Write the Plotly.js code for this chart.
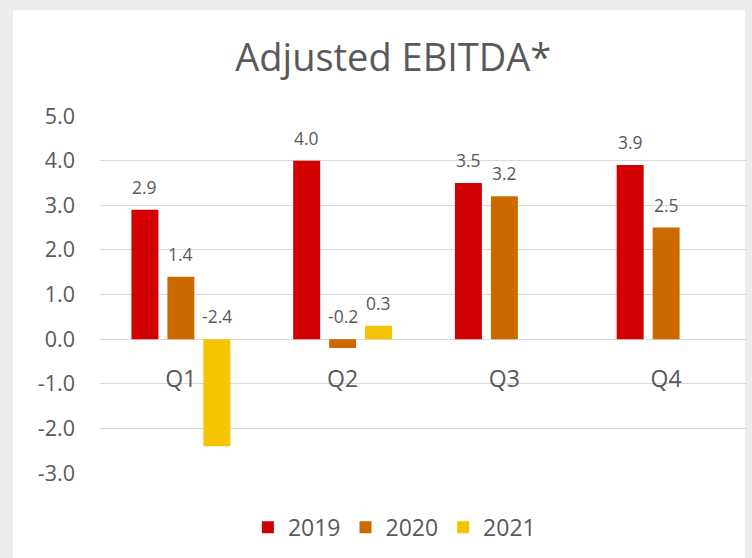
<!DOCTYPE html>
<html><head><meta charset="utf-8">
<script src="https://cdn.plot.ly/plotly-3.0.1.min.js"></script>
<style>html,body{margin:0;padding:0;background:#ececec}#chart{width:752px;height:558px}</style>
</head><body><div id="chart"></div>
<script>
const categories = ["Q1", "Q2", "Q3", "Q4"];
const seriesNames = ["2019", "2020", "2021"];
const values2019 = [2.9, 4.0, 3.5, 3.9];
const values2020 = [1.4, -0.2, 3.2, 2.5];
const values2021 = [-2.4, 0.3, null, null];
const tickVals = [-3, -2, -1, 0, 1, 2, 3, 4, 5];
const colors = ["#d20000", "#cc6a00", "#f4c400"];

const allValues = [values2019, values2020, values2021];
const bargap = 0.333, bargroupgap = 0.25;
const traces = allValues.map((vals, i) => ({
  type: "bar", name: seriesNames[i], x: categories, y: vals,
  marker: {color: colors[i]}, hoverinfo: "none"
}));

// data labels: above bar top (or above zero line for negatives)
const slot = (1 - bargap) / 3;
const annotations = [];
allValues.forEach((vals, i) => {
  vals.forEach((v, j) => {
    if (v === null) return;
    annotations.push({
      xref: "x", yref: "y", x: j + (i - 1) * slot, y: Math.max(v, 0),
      text: v.toFixed(1), showarrow: false, yanchor: "bottom", yshift: 9,
      font: {family: "Open Sans, sans-serif", size: 17.5, color: "#595959"}
    });
  });
});

const layout = {
  width: 752, height: 558,
  paper_bgcolor: "#ececec", plot_bgcolor: "rgba(0,0,0,0)",
  margin: {l: 100, r: 5, t: 116, b: 85},
  title: {text: "Adjusted EBITDA*", x: 0.523, xanchor: "center", y: 0.896, yanchor: "middle",
    font: {family: "Open Sans, sans-serif", size: 38, color: "#595959"}},
  barmode: "group", bargap: bargap, bargroupgap: bargroupgap,
  xaxis: {type: "category", anchor: "free", position: 3/8, showgrid: false, zeroline: false,
    showline: false, ticks: "", ticklabelstandoff: 24,
    tickfont: {family: "Open Sans, sans-serif", size: 23, color: "#595959"}},
  yaxis: {range: [-3, 5], tickvals: tickVals, ticktext: tickVals.map(v => v.toFixed(1)),
    showgrid: true, gridcolor: "#d9d9d9", gridwidth: 1, zeroline: true, zerolinecolor: "#d9d9d9",
    zerolinewidth: 1, showline: false, ticks: "", ticklabelstandoff: 24,
    tickfont: {family: "Open Sans, sans-serif", size: 21.5, color: "#595959"}},
  legend: {orientation: "h", x: 0.455, xanchor: "center", yref: "container", y: 0.055, yanchor: "middle",
    bgcolor: "rgba(0,0,0,0)", itemwidth: 30,
    font: {family: "Open Sans, sans-serif", size: 23, color: "#595959"}, itemclick: false},
  annotations: annotations,
  shapes: [{type: "rect", xref: "paper", yref: "paper", x0: -0.1345, x1: 0.9969, y0: -0.3, y1: 1.297,
    fillcolor: "#ffffff", line: {width: 0}, layer: "below"}]
};
Plotly.newPlot("chart", traces, layout, {displayModeBar: false, staticPlot: true});
</script></body></html>
